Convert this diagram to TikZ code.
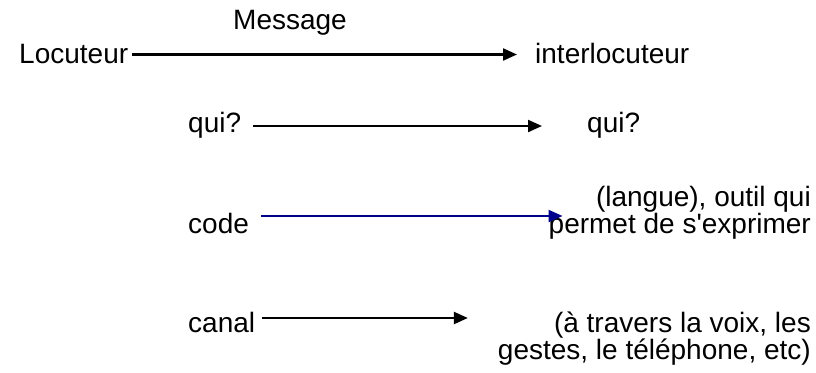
\documentclass[tikz,border=0pt]{standalone}
\usepackage{fontspec}
\setmainfont{Liberation Sans}
\usepackage{xcolor}
\usetikzlibrary{arrows.meta}
\definecolor{bleu}{RGB}{0,0,140}

\begin{document}
\begin{tikzpicture}[x=1pt,y=-1pt,
  font=\fontsize{28}{25}\selectfont,
  texte/.style={inner sep=0pt, text height=19pt, text depth=5pt},
  fleche/.style={line width=2.2pt, -{Triangle[length=14pt,width=12pt]}}]
\useasboundingbox (0,0) rectangle (816,372);

\node [texte, anchor=base west] (msg) at (233,29) {Message};
\node [texte, anchor=base west] (loc) at (19,63) {Locuteur};
\node [texte, anchor=base west] (interloc) at (535,63) {interlocuteur};

\node [texte, anchor=base west] (quiA) at (188,132) {qui?};
\node [texte, anchor=base west] (quiB) at (587,132) {qui?};

\node [texte, anchor=base west] (code) at (188,233) {code};
\node [texte, anchor=base east] (langue) at (811,206) {(langue), outil qui};
\node [texte, anchor=base east] (permet) at (811,233) {permet de s\textquotesingle exprimer};

\node [texte, anchor=base west] (canal) at (188,332) {canal};
\node [texte, anchor=base east] (voix) at (811,332) {(à travers la voix, les};
\node [texte, anchor=base east] (gestes) at (811,359) {gestes, le téléphone, etc)};


\draw [fleche] ([xshift=4pt,yshift=1.5pt]loc.east) -- ([xshift=-18pt,yshift=1.5pt]interloc.west);
\draw [fleche] ([xshift=12pt,yshift=-1pt]quiA.east) -- ([xshift=-45pt,yshift=-1pt]quiB.west);
\draw [fleche] [bleu] ([xshift=12pt,yshift=10pt]code.east) -- ([xshift=14pt,yshift=10pt]permet.west);
\draw [fleche] ([xshift=7pt,yshift=7pt]canal.east) -- ([xshift=-86pt,yshift=7pt]voix.west);

\end{tikzpicture}
\end{document}
